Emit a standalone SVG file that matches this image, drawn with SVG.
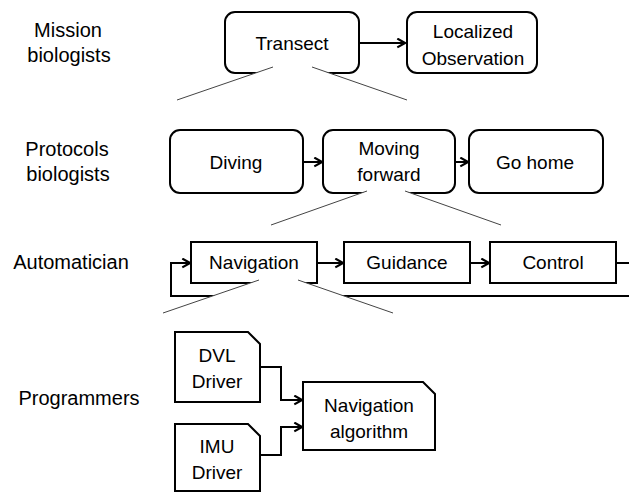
<svg xmlns="http://www.w3.org/2000/svg" width="629" height="493" viewBox="0 0 629 493">
<defs>
<marker id="arr" viewBox="0 0 10 10" refX="9" refY="5" markerWidth="11" markerHeight="11" markerUnits="userSpaceOnUse" orient="auto">
<path d="M2,1 L9,5 L2,9" fill="none" stroke="#000" stroke-width="2"/>
</marker>
<style>
.box{fill:#fff;stroke:#000;stroke-width:2}
.t{font-family:"Liberation Sans",Arial,sans-serif;font-size:19px;fill:#000;text-anchor:middle}
.lbl{font-family:"Liberation Sans",Arial,sans-serif;font-size:20px;fill:#000;text-anchor:middle}
.c{fill:none;stroke:#000;stroke-width:2}
.d{fill:none;stroke:#444;stroke-width:1}
.cone{fill:#fff;stroke:none}
</style>
</defs>
<rect width="629" height="493" fill="#fff"/>
<g id="labels">
<text class="lbl" x="68" y="37">Mission</text>
<text class="lbl" x="69" y="62">biologists</text>
<text class="lbl" x="67" y="156">Protocols</text>
<text class="lbl" x="68" y="181">biologists</text>
<text class="lbl" x="71" y="269">Automatician</text>
<text class="lbl" x="79" y="405">Programmers</text>
</g>
<g id="connectors">
<line class="c" x1="359" y1="43" x2="405" y2="43" marker-end="url(#arr)"/>
<line class="c" x1="303" y1="162" x2="322" y2="162" marker-end="url(#arr)"/>
<line class="c" x1="455" y1="162" x2="468" y2="162" marker-end="url(#arr)"/>
<line class="c" x1="317" y1="263" x2="343" y2="263" marker-end="url(#arr)"/>
<line class="c" x1="470" y1="263" x2="489" y2="263" marker-end="url(#arr)"/>
<path class="c" d="M616,263 H640 V296 H171 V263 H190" marker-end="url(#arr)"/>
<path class="c" d="M260,367 H281 V400 H302" marker-end="url(#arr)"/>
<path class="c" d="M260,455 H281 V427 H302" marker-end="url(#arr)"/>
</g>
<g id="transect"><rect class="box" x="225" y="12" width="134" height="61" rx="10"/><text class="t" x="292" y="50">Transect</text></g>
<g id="localized"><rect class="box" x="407" y="12" width="130" height="61" rx="10"/><text class="t" x="473" y="38">Localized</text><text class="t" x="473" y="65">Observation</text></g>
<g id="diving"><rect class="box" x="170" y="130" width="133" height="63" rx="10"/><text class="t" x="236" y="169">Diving</text></g>
<g id="moving"><rect class="box" x="323" y="130" width="132" height="63" rx="10"/><text class="t" x="389" y="155">Moving</text><text class="t" x="389" y="181">forward</text></g>
<g id="gohome"><rect class="box" x="469" y="130" width="134" height="63" rx="10"/><text class="t" x="535" y="169">Go home</text></g>
<g id="navigation"><rect class="box" x="191" y="242" width="126" height="41"/><text class="t" x="254" y="269">Navigation</text></g>
<g id="guidance"><rect class="box" x="344" y="242" width="126" height="41"/><text class="t" x="407" y="269">Guidance</text></g>
<g id="control"><rect class="box" x="490" y="242" width="126" height="41"/><text class="t" x="553" y="269">Control</text></g>
<g id="dvl"><path class="box" d="M175,332 H248 L260,344 V402 H175 Z"/><text class="t" x="217" y="362">DVL</text><text class="t" x="217" y="388">Driver</text></g>
<g id="imu"><path class="box" d="M175,424 H248 L260,436 V491 H175 Z"/><text class="t" x="217" y="453">IMU</text><text class="t" x="217" y="479">Driver</text></g>
<g id="navalgo"><path class="box" d="M303,382 H423 L435,394 V450 H303 Z"/><text class="t" x="369" y="412">Navigation</text><text class="t" x="369" y="438">algorithm</text></g>
<g id="decomposition">
<polygon class="cone" points="273,67 312,67 407,100 177,100"/>
<line class="d" x1="273" y1="67" x2="177" y2="100"/>
<line class="d" x1="312" y1="67" x2="407" y2="100"/>
<polygon class="cone" points="367,191 405,191 501,225 271,225"/>
<line class="d" x1="367" y1="191" x2="271" y2="225"/>
<line class="d" x1="405" y1="191" x2="501" y2="225"/>
<polygon class="cone" points="259,280 298,280 393,313 163,313"/>
<line class="d" x1="259" y1="280" x2="163" y2="313"/>
<line class="d" x1="298" y1="280" x2="393" y2="313"/>
</g>
</svg>
